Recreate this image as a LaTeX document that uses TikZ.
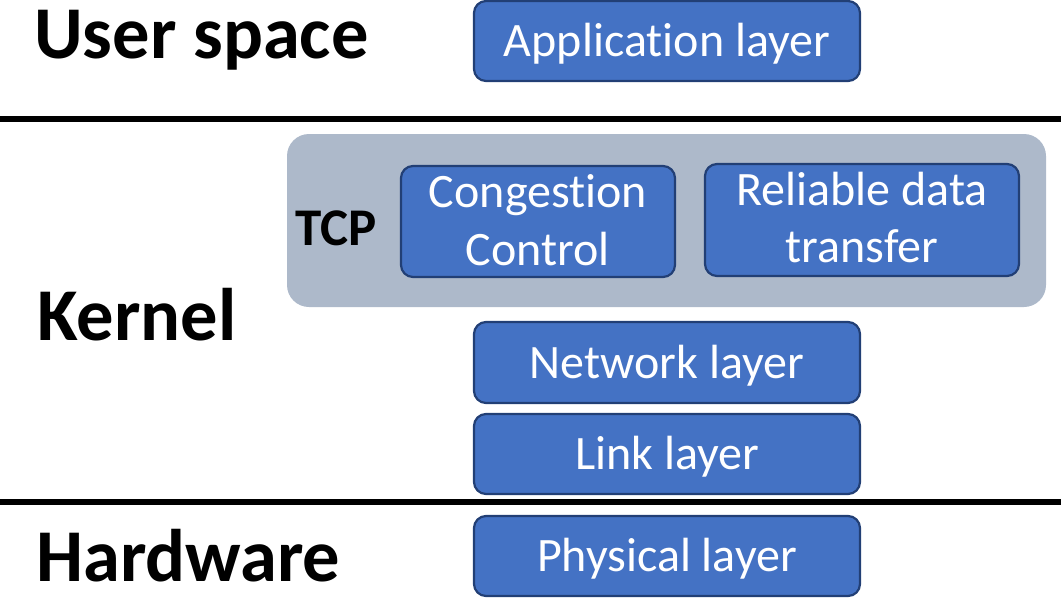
\documentclass[tikz,border=0pt]{standalone}
\usepackage{fontspec}
\setmainfont[Ligatures={NoCommon,NoContextual}]{Carlito}
\definecolor{layerfill}{HTML}{4472C4}
\definecolor{layeredge}{HTML}{223F75}
\definecolor{tcpfill}{HTML}{ADB9CA}
\begin{document}
\begin{tikzpicture}[x=1pt,y=-1pt,
  layerbox/.style={draw=layeredge,fill=layerfill,line width=2.2pt,rounded corners=12pt,inner sep=0pt},
  layertext/.style={anchor=base,text=white,inner sep=0pt,font=\fontsize{48}{57}\selectfont},
  heading/.style={anchor=base west,inner sep=0pt,font=\fontsize{74.5}{80}\selectfont\bfseries},
  divider/.style={line width=6.5pt,black}]
\useasboundingbox (0,0) rectangle (1061,598);

% section dividers
\coordinate (d1a) at (0,119);
\coordinate (d1b) at (1061,119);
\coordinate (d2a) at (0,502);
\coordinate (d2b) at (1061,502);
\draw[divider] (d1a) -- (d1b);
\draw[divider] (d2a) -- (d2b);

% headings
\node[heading] (user) at (34,58) {User space};
\node[heading] (kernel) at (37,340) {Kernel};
\node[heading,text depth=0pt] (hw) at (36,581) {Hardware};

% TCP container
\node[fill=tcpfill,rounded corners=22pt,minimum width=759pt,minimum height=173pt,inner sep=0pt] (tcp) at (666.5,220.5) {};
\node[anchor=base west,inner sep=0pt,font=\fontsize{53}{60}\selectfont\bfseries] (tcplabel) at (295,245) {TCP};

% layer boxes
\node[layerbox,minimum width=386pt,minimum height=80pt] (app) at (667,41) {};
\node[layertext] (apptext) at (667,56) {Application layer};

\node[layerbox,minimum width=274pt,minimum height=111pt] (cc) at (538,221.5) {};
\node[layertext] (cc1) at (538,207) {Congestion};
\node[layertext] (cc2) at (538,265) {Control};

\node[layerbox,minimum width=314pt,minimum height=112pt] (rdt) at (862,220) {};
\node[layertext] (rdt1) at (862,205) {Reliable data};
\node[layertext] (rdt2) at (862,262) {transfer};

\node[layerbox,minimum width=386pt,minimum height=81pt] (net) at (667,362.5) {};
\node[layertext] (nettext) at (667,378) {Network layer};

\node[layerbox,minimum width=386pt,minimum height=80pt] (link) at (667,454) {};
\node[layertext] (linktext) at (667,469) {Link layer};

\node[layerbox,minimum width=386pt,minimum height=80pt] (phy) at (667,556) {};
\node[layertext] (phytext) at (667,571) {Physical layer};
\end{tikzpicture}
\end{document}
